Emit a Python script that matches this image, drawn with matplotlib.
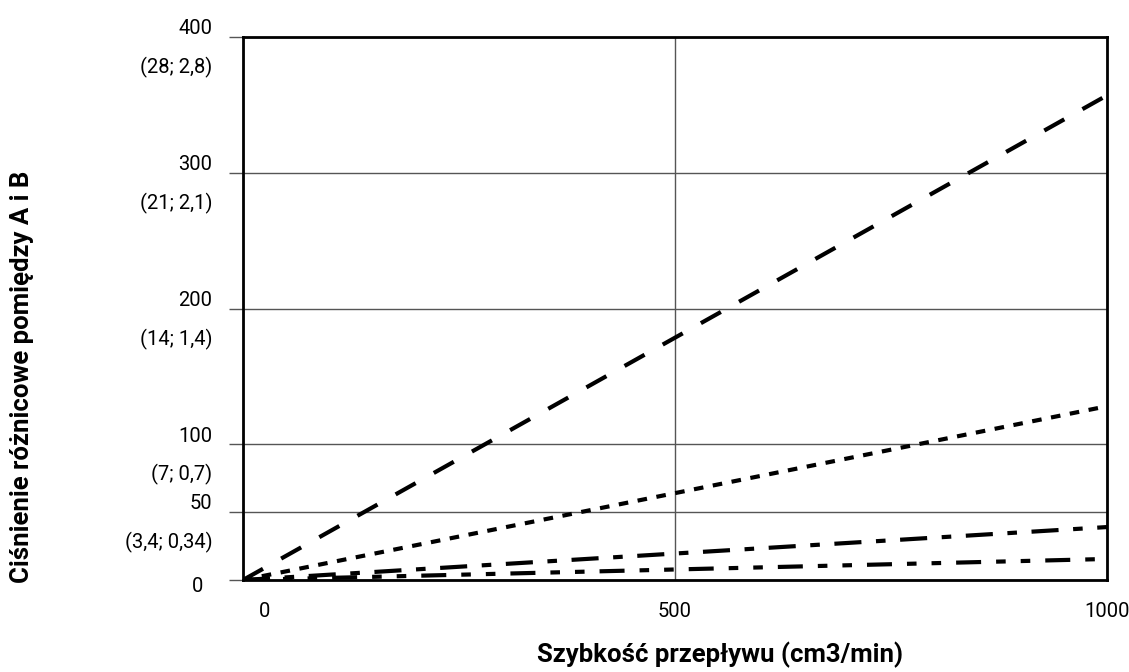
import matplotlib.pyplot as plt
import matplotlib.transforms as mtransforms

# flow rate (cm3/min) and differential pressure for the four curves
flow = [0, 1000]
series_dash = [0, 357]
series_dot = [0, 128]
series_dashdot = [0, 39]
series_dashdotdot = [0, 15.5]

xticks = [0, 500, 1000]
xtick_labels = ["0", "500", "1000"]
yticks = [0, 50, 100, 200, 300, 400]
ytick_labels = ["0", "50\n(3,4; 0,34)", "100\n(7; 0,7)", "200\n(14; 1,4)",
                "300\n(21; 2,1)", "400\n(28; 2,8)"]

plt.rcParams["font.family"] = ["Roboto", "DejaVu Sans"]

fig = plt.figure(figsize=(11.29, 6.72), dpi=100)
ax = fig.add_axes([243 / 1129, 1 - 580 / 672, (1107 - 243) / 1129, (580 - 37) / 672])

lw = 3.0
ax.plot(flow, series_dash, color="black", lw=lw, dashes=(5.5, 5.0), solid_capstyle="butt")
ax.plot(flow, series_dot, color="black", lw=lw, dashes=(2.3, 2.3))
ax.plot(flow, series_dashdot, color="black", lw=lw, dashes=(6.5, 3.5, 2.3, 3.5))
ax.plot(flow, series_dashdotdot, color="black", lw=lw, dashes=(6.0, 3.6, 2.3, 3.6, 2.3, 3.6))

ax.set_xlim(0, 1000)
ax.set_ylim(0, 400)

ax.set_xticks(xticks)
ax.set_xticklabels(xtick_labels, fontsize=14.5)
ax.set_yticks(yticks)
ax.set_yticklabels(ytick_labels, fontsize=14.5, linespacing=2.15)

ax.grid(True, color="#555555", lw=1.0)
ax.tick_params(axis="y", length=10, width=1.0, color="#555555", pad=12)
ax.tick_params(axis="x", length=0, pad=16)

for s in ax.spines.values():
    s.set_linewidth(2.0)
    s.set_color("black")

# nudge the "0" labels as in the original
lab = ax.get_xticklabels()[0]
lab.set_transform(lab.get_transform() + mtransforms.ScaledTranslation(0.22, 0, fig.dpi_scale_trans))
lab = ax.get_yticklabels()[0]
lab.set_transform(lab.get_transform() + mtransforms.ScaledTranslation(-0.09, -0.05, fig.dpi_scale_trans))
for lab in ax.get_yticklabels():
    lab.set_horizontalalignment("right")
    lab.set_multialignment("right")

fig.text(720 / 1129, 1 - 655 / 672, "Szybkość przepływu (cm3/min)", fontsize=18.5,
         fontweight="bold", ha="center", va="center")
fig.text(22 / 1129, 1 - 377 / 672, "Ciśnienie różnicowe pomiędzy A i B", fontsize=18.5,
         fontweight="bold", ha="center", va="center", rotation=90)

fig.savefig("out.png", dpi=100)
